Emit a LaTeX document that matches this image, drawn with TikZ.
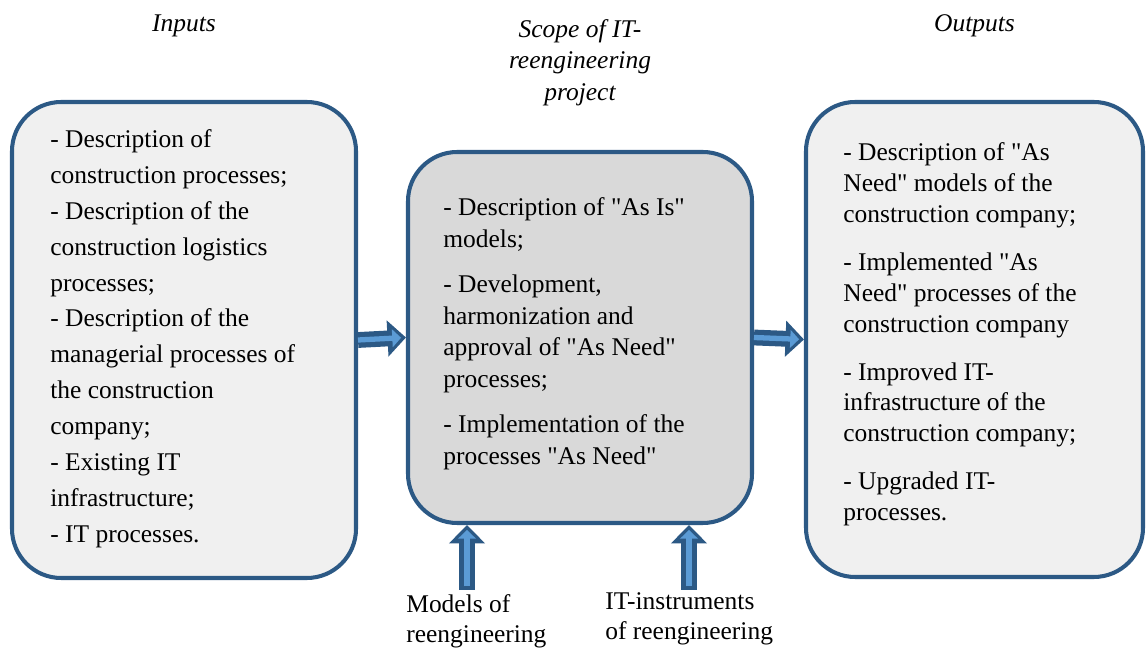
\documentclass[tikz,border=0pt]{standalone}
\usepackage{fontspec}
\setmainfont{Liberation Serif}
\usepackage{tikz}
\usetikzlibrary{arrows.meta, fit, positioning}

\definecolor{frame}{HTML}{2C5985}
\definecolor{shaft}{HTML}{5B9BD5}
\definecolor{pale}{HTML}{F0F0F0}
\definecolor{mid}{HTML}{D9D9D9}
\newcommand{\qq}{\textquotedbl}

\begin{document}
\begin{tikzpicture}[x=0.02cm, y=-0.02cm,
    box/.style={draw=frame, line width=2.3pt, rounded corners=28pt, inner sep=0pt},
    txt/.style={anchor=north west, inner sep=0pt, align=left},
    title/.style={inner sep=0pt, align=center, font=\itshape\fontsize{14.5}{17.8}\selectfont},
    outer/.style={draw=frame, line width=9pt, -{Triangle[length=10.5pt, width=20pt]}},
    inner/.style={draw=shaft, line width=3pt, -{Triangle[length=5pt, width=10pt]}, shorten >=2.8pt}]

    \useasboundingbox (0,0) rectangle (1147,648);

    \node[box, fill=pale, fit={(12,102) (356,578)}] (inputs) {};
    \node[box, fill=mid,  fit={(408,152) (752,523)}] (scope) {};
    \node[box, fill=pale, fit={(806,102) (1143,577)}] (outputs) {};

    \node[title, above=1.26cm of inputs] {Inputs};
    \node[title, above=0.88cm of scope] {Scope of IT-\\reengineering\\project};
    \node[title, above=1.26cm of outputs] {Outputs};

    \node[txt, font=\fontsize{14.5}{20.4}\selectfont] (intext) at (50,129.5)
        {- Description of\\
         construction processes;\\
         - Description of the\\
         construction logistics\\
         processes;\\
         - Description of the\\
         managerial processes of\\
         the construction\\
         company;\\
         - Existing IT\\
         infrastructure;\\
         - IT processes.};

    \node[txt, font=\fontsize{14.5}{18.1}\selectfont] (scopetext) at (443,197.5)
        {- Description of \qq As Is\qq\\
         models;\\[7.4pt]
         - Development,\\
         harmonization and\\
         approval of \qq As Need\qq\\
         processes;\\[7.4pt]
         - Implementation of the\\
         processes \qq As Need\qq};

    \node[txt, font=\fontsize{14.5}{17.6}\selectfont] (outtext) at (843,142.5)
        {- Description of \qq As\\
         Need\qq\ models of the\\
         construction company;\\[9.6pt]
         - Implemented \qq As\\
         Need\qq\ processes of the\\
         construction company\\[9.6pt]
         - Improved IT-\\
         infrastructure of the\\
         construction company;\\[9.6pt]
         - Upgraded IT-\\
         processes.};

    \node[txt, font=\fontsize{14.5}{16.8}\selectfont] (models) at (406,594.5)
        {Models of\\reengineering};
    \node[txt, font=\fontsize{14.5}{16.8}\selectfont] (tools) at (605,592.5)
        {IT-instruments\\of reengineering};

    \coordinate (mfoot) at (467,590);
    \coordinate (tfoot) at (689,590);

    % block arrows
    \foreach \a/\b in {inputs/scope, scope/outputs} {
        \draw[outer] (\a.east) -- (\b.west);
        \draw[inner] (\a.east) -- (\b.west);
    }
    \foreach \f in {mfoot, tfoot} {
        \draw[outer] (\f) -- (\f |- scope.south);
        \draw[inner, shorten <=2pt] (\f) -- (\f |- scope.south);
    }
\end{tikzpicture}
\end{document}
